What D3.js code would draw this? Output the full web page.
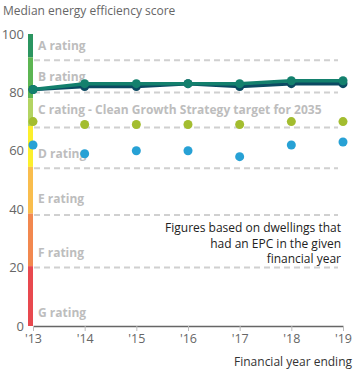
<!DOCTYPE html>
<html>
<head>
<meta charset="utf-8">
<script src="https://cdn.jsdelivr.net/npm/d3@7"></script>
<style>
	body { margin: 0; background: #fff; font-family: "Open Sans", sans-serif; }
</style>
</head>
<body>
<div id="chart-area"></div>
<script>
// SVG Size
let width = 358,
	height = 374;

// Data
let years = [2013, 2014, 2015, 2016, 2017, 2018, 2019];
let yearLabels = ["'13", "'14", "'15", "'16", "'17", "'18", "'19"];
let allDwellings = [81, 82, 82, 83, 82, 83, 83];
let newDwellings = [81, 83, 83, 83, 83, 84, 84];
let cRatingSeries = [70, 69, 69, 69, 69, 70, 70];
let dRatingSeries = [62, 59, 60, 60, 58, 62, 63];
let yTicks = [0, 20, 40, 60, 80, 100];

// EPC bands (lower edge, upper edge)
let bandNames = ["A", "B", "C", "D", "E", "F", "G"];
let bandRanges = [[92, 100], [78, 92], [68.5, 78], [54.5, 68.5], [38.5, 54.5], [20.5, 38.5], [0, 20.5]];
let bandColors = ["#2b9560", "#5cb552", "#b3d462", "#fcef2c", "#f9bd4d", "#f2884f", "#e8494f"];
let bandLines = [91, 80, 68, 54, 38, 20];
let bandLabels = ["A rating", "B rating", "C rating - Clean Growth Strategy target for 2035",
	"D rating", "E rating", "F rating", "G rating"];
let bandLabelValues = [96, 85.5, 74, 59, 43.5, 25, 4.5];

let noteLines = ["Figures based on dwellings that", "had an EPC in the given", "financial year"];

let svg = d3.select("#chart-area").append("svg")
	.attr("width", width)
	.attr("height", height);

let xScale = d3.scaleLinear()
	.domain([2013, 2019])
	.range([33, 343]);

let yScale = d3.scaleLinear()
	.domain([0, 100])
	.range([326, 34]);

// Title
svg.append("text")
	.attr("x", 3)
	.attr("y", 15)
	.attr("fill", "#666")
	.style("font-size", "12px")
	.text("Median energy efficiency score");

// coloured rating bar
svg.append("g").selectAll("rect")
	.data(bandRanges)
	.enter()
	.append("rect")
	.attr("x", 28)
	.attr("width", 5)
	.attr("y", d => yScale(d[1]))
	.attr("height", d => yScale(d[0]) - yScale(d[1]))
	.attr("fill", (d, i) => bandColors[i]);

// dashed band boundaries
svg.append("g").selectAll("line")
	.data(bandLines)
	.enter()
	.append("line")
	.attr("x1", 34)
	.attr("x2", 338)
	.attr("y1", d => yScale(d))
	.attr("y2", d => yScale(d))
	.attr("stroke", "#d0d0d0")
	.attr("stroke-width", 2)
	.attr("stroke-dasharray", "6,4");

// band labels
svg.append("g").selectAll("text")
	.data(bandLabels)
	.enter()
	.append("text")
	.attr("x", 38)
	.attr("y", (d, i) => yScale(bandLabelValues[i]))
	.attr("dy", "0.35em")
	.attr("fill", "#bdbdbd")
	.style("font-size", "12px")
	.style("font-weight", "bold")
	.text(d => d);

// y axis (labels only)
let yAxis = d3.axisLeft(yScale)
	.tickValues(yTicks)
	.tickSize(0)
	.tickPadding(4);

let yG = svg.append("g")
	.attr("transform", "translate(28,0)")
	.call(yAxis);
yG.select(".domain").remove();
yG.selectAll("text")
	.attr("fill", "#666")
	.style("font-size", "13px")
	.style("font-family", "Open Sans, sans-serif");

// x axis
let xAxis = d3.axisBottom(xScale)
	.tickValues(years)
	.tickFormat((d, i) => yearLabels[i])
	.tickSizeInner(5)
	.tickSizeOuter(0)
	.tickPadding(3);

let xG = svg.append("g")
	.attr("transform", "translate(0,326)")
	.call(xAxis);
xG.select(".domain").attr("stroke", "#666").attr("stroke-width", 1.5);
xG.selectAll(".tick line").attr("stroke", "#bbb");
xG.selectAll("text")
	.attr("fill", "#666")
	.style("font-size", "12.5px")
	.style("font-family", "Open Sans, sans-serif");

svg.append("text")
	.attr("x", 352)
	.attr("y", 366)
	.attr("text-anchor", "end")
	.attr("fill", "#333")
	.style("font-size", "12px")
	.text("Financial year ending");

// note
svg.append("g").selectAll("text")
	.data(noteLines)
	.enter()
	.append("text")
	.attr("x", 341)
	.attr("y", (d, i) => 232 + i * 15.5)
	.attr("text-anchor", "end")
	.attr("fill", "#222")
	.style("font-size", "12px")
	.text(d => d);

// scatter series
function drawDots(values, color) {
	svg.append("g").selectAll("circle")
		.data(values)
		.enter()
		.append("circle")
		.attr("cx", (d, i) => xScale(years[i]))
		.attr("cy", d => yScale(d))
		.attr("r", 4.5)
		.attr("fill", color);
}
drawDots(cRatingSeries, "#a3bd2f");
drawDots(dRatingSeries, "#27a1d5");

// lines
function drawLine(values, color) {
	let line = d3.line()
		.x((d, i) => xScale(years[i]))
		.y(d => yScale(d));
	svg.append("path")
		.datum(values)
		.attr("d", line)
		.attr("fill", "none")
		.attr("stroke", color)
		.attr("stroke-width", 3.5);
	drawDots(values, color);
}
drawLine(allDwellings, "#0b4a62");
drawLine(newDwellings, "#13806d");
</script>
</body>
</html>
